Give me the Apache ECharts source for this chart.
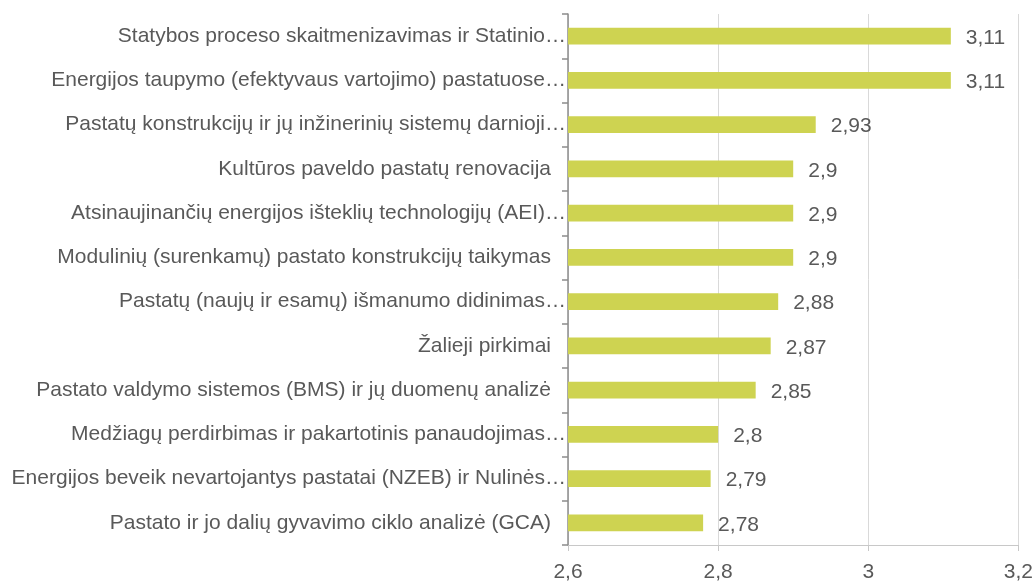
<!DOCTYPE html>
<html>
<head>
<meta charset="utf-8">
<script src="https://cdn.jsdelivr.net/npm/echarts@6/dist/echarts.min.js"></script>
<style>
  html, body { margin: 0; padding: 0; background: #ffffff; }
  #chart { width: 1036px; height: 583px; }
</style>
</head>
<body>
<div id="chart"></div>
<script>
// Topic names, top to bottom
const categories = [
  'Statybos proceso skaitmenizavimas ir Statinio…',
  'Energijos taupymo (efektyvaus vartojimo) pastatuose…',
  'Pastatų konstrukcijų ir jų inžinerinių sistemų darnioji…',
  'Kultūros paveldo pastatų renovacija',
  'Atsinaujinančių energijos išteklių technologijų (AEI)…',
  'Modulinių (surenkamų) pastato konstrukcijų taikymas',
  'Pastatų (naujų ir esamų) išmanumo didinimas…',
  'Žalieji pirkimai',
  'Pastato valdymo sistemos (BMS) ir jų duomenų analizė',
  'Medžiagų perdirbimas ir pakartotinis panaudojimas…',
  'Energijos beveik nevartojantys pastatai (NZEB) ir Nulinės…',
  'Pastato ir jo dalių gyvavimo ciklo analizė (GCA)'
];

// Average scores
const scores = [3.11, 3.11, 2.93, 2.9, 2.9, 2.9, 2.88, 2.87, 2.85, 2.8, 2.79, 2.78];

// Value axis range
const axisMin = 2.6;
const axisMax = 3.2;
const axisStep = 0.2;

const commaNum = v => String(Math.round(v * 100) / 100).replace('.', ',');

const chart = echarts.init(document.getElementById('chart'), null, { renderer: 'canvas' });

const textFont = '"Liberation Sans", Arial, sans-serif';
const textColor = '#595959';
const labelStyle = { color: textColor, fontFamily: textFont, fontSize: 21 };

chart.setOption({
  animation: false,
  backgroundColor: '#ffffff',
  grid: { left: 568, right: 17, top: 14, bottom: 37, containLabel: false },
  xAxis: {
    type: 'value',
    min: axisMin,
    max: axisMax,
    interval: axisStep,
    axisLine: { show: true, lineStyle: { color: '#c8c8c8', width: 1 } },
    axisTick: { show: true, length: 6, lineStyle: { color: '#c8c8c8' } },
    splitLine: { show: true, lineStyle: { color: '#d9d9d9', width: 1 } },
    axisLabel: Object.assign({ margin: 17, formatter: v => commaNum(v) }, labelStyle)
  },
  yAxis: {
    type: 'category',
    data: categories,
    inverse: true,
    axisLine: { show: true, lineStyle: { color: '#8c8c8c', width: 1.5 } },
    axisTick: { show: true, length: 6, lineStyle: { color: '#8c8c8c', width: 1.5 } },
    splitLine: { show: false },
    axisLabel: Object.assign({
      margin: 2,
      // full (untruncated) names sit a little further from the axis
      formatter: v => v.endsWith('…') ? v : '{full|' + v + '}',
      rich: { full: Object.assign({ padding: [0, 15, 0, 0] }, labelStyle) }
    }, labelStyle)
  },
  series: [{
    type: 'bar',
    data: scores,
    barWidth: '38%',
    itemStyle: { color: '#ced351' },
    label: Object.assign({
      show: true,
      position: 'right',
      distance: 15,
      offset: [0, 2],
      formatter: p => commaNum(p.value)
    }, labelStyle)
  }]
});
</script>
</body>
</html>
